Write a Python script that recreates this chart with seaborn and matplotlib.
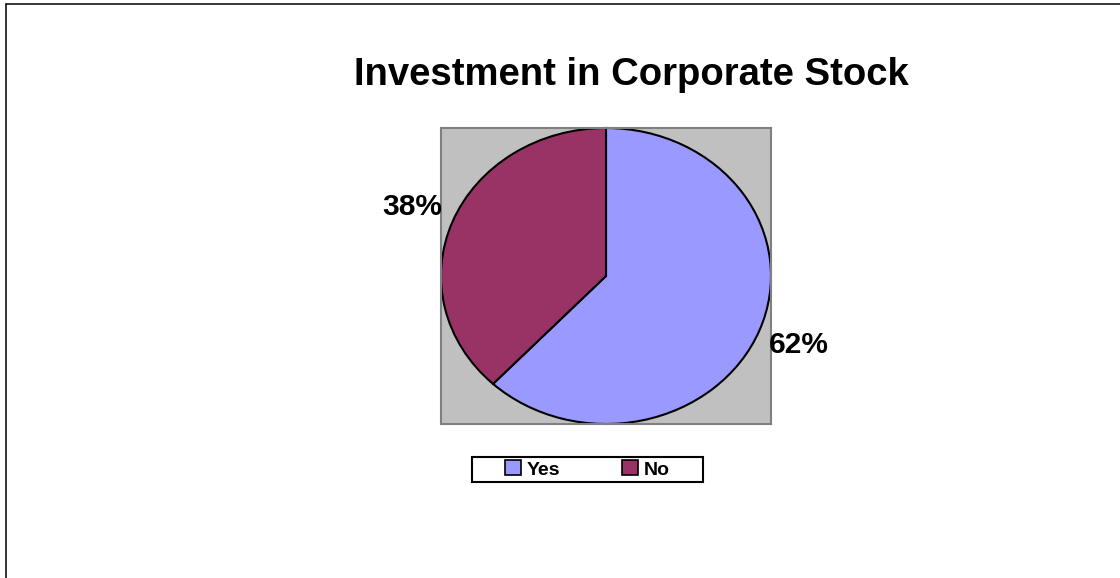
import matplotlib
matplotlib.use("Agg")
import matplotlib.pyplot as plt
from matplotlib.lines import Line2D
from matplotlib.patches import Patch, Rectangle
import seaborn as sns

sns.set_theme(style="white")
plt.rcParams["font.family"] = ["Liberation Sans", "DejaVu Sans"]

title = "Investment in Corporate Stock"
categories = ["Yes", "No"]
shares = [62, 38]
colors = ["#9999FF", "#993366"]

W, H = 1120, 578
fig = plt.figure(figsize=(W / 100, H / 100), dpi=100)


def fx(px):
    return px / W


def fy(py):
    return 1 - py / H


# outer frame along the top and left edges
fig.add_artist(Line2D([fx(6), 1.0], [fy(4), fy(4)],
                      transform=fig.transFigure, color="black", lw=1.1))
fig.add_artist(Line2D([fx(6), fx(6)], [0.0, fy(4)],
                      transform=fig.transFigure, color="black", lw=1.1))

# plot area holding the (stretched) pie
ax = fig.add_axes([fx(441), fy(424), fx(330), 296 / H])
ax.set_facecolor("#C0C0C0")

wedges, texts, autotexts = ax.pie(
    shares,
    colors=colors,
    startangle=90,
    counterclock=False,
    autopct="%1.0f%%",
    pctdistance=1.26,
    wedgeprops=dict(edgecolor="black", linewidth=1.5),
    textprops=dict(fontsize=21.5, fontweight="bold", color="black"),
    frame=True,
)
ax.set_aspect("auto")
ax.set_xlim(-1.0, 1.0)
ax.set_ylim(-1.0, 1.0)
ax.set_xticks([])
ax.set_yticks([])
for t in autotexts:
    t.set_clip_on(False)
for s in ax.spines.values():
    s.set_visible(True)
    s.set_color("#808080")
    s.set_linewidth(1.5)

fig.text(fx(631), fy(85), title, ha="center", va="baseline",
         fontsize=27.5, fontweight="bold", color="black")

# legend below the plot area
handles = [Patch(facecolor=c, edgecolor="black", linewidth=1.2) for c in colors]
leg = fig.legend(handles, categories, loc="center", bbox_to_anchor=(fx(587.5), fy(469.5)),
                 ncol=2, frameon=False, handlelength=0.8, handleheight=0.8,
                 handletextpad=0.3, columnspacing=3.2, borderpad=0.2,
                 prop=dict(size=14, weight="bold"))
for t in leg.get_texts():
    t.set_color("black")
fig.add_artist(Rectangle((fx(472), fy(482)), fx(703) - fx(472), fy(457) - fy(482),
                         transform=fig.transFigure, facecolor="none",
                         edgecolor="black", linewidth=1.5))

fig.savefig("out.png", dpi=100, facecolor="white")
